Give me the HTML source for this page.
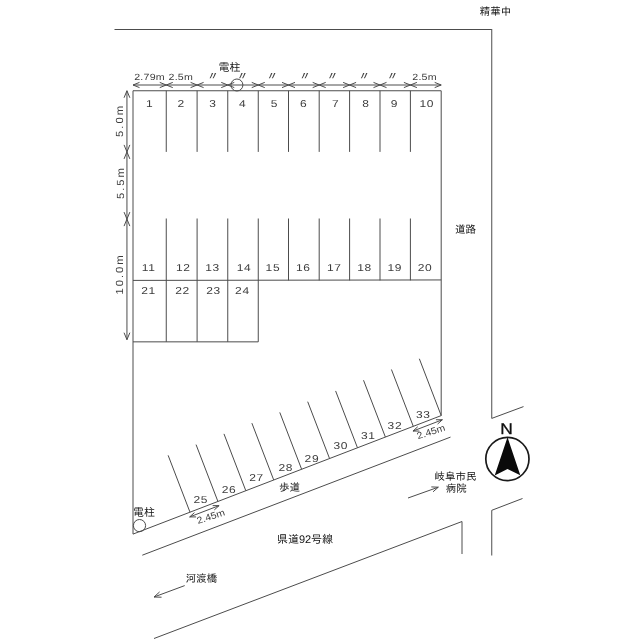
<!DOCTYPE html>
<html lang="ja"><head><meta charset="utf-8"><title>駐車場配置図</title>
<style>
html,body{margin:0;padding:0;background:#fff;}
body{width:640px;height:639px;overflow:hidden;}
svg{display:block;}
.g line,.g polyline,.g circle{fill:none;stroke:#4c4c4c;stroke-width:1.0;}
text{fill:#3c3c3c;text-rendering:geometricPrecision;}
.g circle.nc{stroke:#1a1a1a;stroke-width:1.7;}
.q{fill:#444 !important;}
.n{font-family:"Liberation Sans",sans-serif;}
.N{font-family:"Liberation Sans",sans-serif;fill:#111;stroke:#111;stroke-width:0.3;}
.j{font-family:"Liberation Sans","IPAGothic","Noto Sans CJK JP",sans-serif;fill:#111;}
</style></head><body>
<svg width="640" height="639" viewBox="0 0 640 639">
<rect width="640" height="639" fill="#ffffff"/>
<g class="g">
<line x1="133.00" y1="90.75" x2="441.20" y2="90.75"/>
<line x1="133.00" y1="90.75" x2="133.00" y2="534.10"/>
<line x1="441.20" y1="90.75" x2="441.20" y2="415.60"/>
<line x1="166.25" y1="90.75" x2="166.25" y2="151.90"/>
<line x1="197.10" y1="90.75" x2="197.10" y2="151.90"/>
<line x1="227.75" y1="90.75" x2="227.75" y2="151.90"/>
<line x1="258.25" y1="90.75" x2="258.25" y2="151.90"/>
<line x1="288.50" y1="90.75" x2="288.50" y2="151.90"/>
<line x1="319.20" y1="90.75" x2="319.20" y2="151.90"/>
<line x1="349.60" y1="90.75" x2="349.60" y2="151.90"/>
<line x1="380.00" y1="90.75" x2="380.00" y2="151.90"/>
<line x1="410.40" y1="90.75" x2="410.40" y2="151.90"/>
<line x1="166.25" y1="218.50" x2="166.25" y2="341.85"/>
<line x1="197.10" y1="218.50" x2="197.10" y2="341.85"/>
<line x1="227.75" y1="218.50" x2="227.75" y2="341.85"/>
<line x1="258.25" y1="218.50" x2="258.25" y2="341.85"/>
<line x1="288.50" y1="218.50" x2="288.50" y2="280.40"/>
<line x1="319.20" y1="218.50" x2="319.20" y2="280.40"/>
<line x1="349.60" y1="218.50" x2="349.60" y2="280.40"/>
<line x1="380.00" y1="218.50" x2="380.00" y2="280.40"/>
<line x1="410.40" y1="218.50" x2="410.40" y2="280.40"/>
<line x1="133.00" y1="280.40" x2="441.20" y2="279.95"/>
<line x1="133.00" y1="341.85" x2="258.25" y2="341.85"/>
<line x1="133.00" y1="85.00" x2="441.20" y2="85.00"/>
<polyline points="139.50,82.40 133.00,85.00 139.50,87.60"/>
<polyline points="159.75,87.60 166.25,85.00 159.75,82.40"/>
<polyline points="172.75,82.40 166.25,85.00 172.75,87.60"/>
<polyline points="190.60,87.60 197.10,85.00 190.60,82.40"/>
<polyline points="203.60,82.40 197.10,85.00 203.60,87.60"/>
<polyline points="221.25,87.60 227.75,85.00 221.25,82.40"/>
<polyline points="234.25,82.40 227.75,85.00 234.25,87.60"/>
<polyline points="251.75,87.60 258.25,85.00 251.75,82.40"/>
<polyline points="264.75,82.40 258.25,85.00 264.75,87.60"/>
<polyline points="282.00,87.60 288.50,85.00 282.00,82.40"/>
<polyline points="295.00,82.40 288.50,85.00 295.00,87.60"/>
<polyline points="312.70,87.60 319.20,85.00 312.70,82.40"/>
<polyline points="325.70,82.40 319.20,85.00 325.70,87.60"/>
<polyline points="343.10,87.60 349.60,85.00 343.10,82.40"/>
<polyline points="356.10,82.40 349.60,85.00 356.10,87.60"/>
<polyline points="373.50,87.60 380.00,85.00 373.50,82.40"/>
<polyline points="386.50,82.40 380.00,85.00 386.50,87.60"/>
<polyline points="403.90,87.60 410.40,85.00 403.90,82.40"/>
<polyline points="416.90,82.40 410.40,85.00 416.90,87.60"/>
<polyline points="434.70,87.60 441.20,85.00 434.70,82.40"/>
<line x1="126.95" y1="90.75" x2="126.95" y2="339.70"/>
<polyline points="129.85,97.75 126.95,90.75 124.05,97.75"/>
<polyline points="129.85,158.90 126.95,151.90 124.05,158.90"/>
<polyline points="129.85,226.10 126.95,219.10 124.05,226.10"/>
<polyline points="124.05,144.90 126.95,151.90 129.85,144.90"/>
<polyline points="124.05,212.10 126.95,219.10 129.85,212.10"/>
<polyline points="124.05,332.70 126.95,339.70 129.85,332.70"/>
<circle cx="236.9" cy="85.0" r="6.0"/>
<circle cx="139.5" cy="525.6" r="6.1"/>
<line x1="114.50" y1="29.50" x2="491.75" y2="29.50"/>
<line x1="491.75" y1="29.00" x2="491.75" y2="418.40"/>
<line x1="491.75" y1="418.40" x2="523.50" y2="406.60"/>
<line x1="491.75" y1="555.50" x2="491.75" y2="510.30"/>
<line x1="491.75" y1="510.30" x2="522.50" y2="498.50"/>
<line x1="133.00" y1="534.10" x2="441.20" y2="415.60"/>
<line x1="190.00" y1="512.18" x2="168.14" y2="455.34"/>
<line x1="217.91" y1="501.45" x2="196.06" y2="444.61"/>
<line x1="245.82" y1="490.72" x2="223.97" y2="433.88"/>
<line x1="273.73" y1="479.99" x2="251.88" y2="423.15"/>
<line x1="301.64" y1="469.26" x2="279.79" y2="412.41"/>
<line x1="329.56" y1="458.53" x2="307.70" y2="401.68"/>
<line x1="357.47" y1="447.79" x2="335.61" y2="390.95"/>
<line x1="385.38" y1="437.06" x2="363.52" y2="380.22"/>
<line x1="413.29" y1="426.33" x2="391.43" y2="369.49"/>
<line x1="441.20" y1="415.60" x2="419.34" y2="358.76"/>
<line x1="142.30" y1="555.20" x2="450.50" y2="437.10"/>
<line x1="154.00" y1="638.50" x2="462.00" y2="521.50"/>
<line x1="462.00" y1="521.50" x2="462.00" y2="554.00"/>
<line x1="189.68" y1="516.92" x2="219.08" y2="505.61"/>
<polyline points="194.45,512.62 189.68,516.92 196.10,516.91"/>
<polyline points="214.31,509.91 219.08,505.61 212.66,505.62"/>
<line x1="412.97" y1="431.06" x2="442.37" y2="419.76"/>
<polyline points="417.74,426.76 412.97,431.06 419.39,431.06"/>
<polyline points="437.59,424.06 442.37,419.76 435.94,419.76"/>
<line x1="154.00" y1="597.00" x2="184.70" y2="585.60"/>
<polyline points="159.60,591.95 154.00,597.00 161.54,597.21"/>
<line x1="408.00" y1="498.00" x2="438.30" y2="487.20"/>
<polyline points="433.04,491.82 438.30,487.20 431.30,486.92"/>
<circle class="nc" cx="507.4" cy="459.0" r="21.6"/>
<polygon points="507.5,437.2 520.3,475.2 507.5,469 494.7,475.4" fill="#0a0a0a" stroke="none"/>
</g>
<g style="opacity:0.999">
<text class="n" transform="translate(211.81 519.44) rotate(-18.00) scale(1.1 1)" font-size="9.5" text-anchor="middle" letter-spacing="0">2.45m</text>
<text class="n" transform="translate(431.92 434.81) rotate(-18.00) scale(1.1 1)" font-size="9.5" text-anchor="middle" letter-spacing="0">2.45m</text>
<text class="n" transform="translate(149.55 106.50) scale(1.2 1)" font-size="10" text-anchor="middle" letter-spacing="0.5">1</text>
<text class="n" transform="translate(148.70 271.40) scale(1.2 1)" font-size="10" text-anchor="middle" letter-spacing="0.5">11</text>
<text class="n" transform="translate(181.18 106.50) scale(1.2 1)" font-size="10" text-anchor="middle" letter-spacing="0.5">2</text>
<text class="n" transform="translate(183.18 271.40) scale(1.2 1)" font-size="10" text-anchor="middle" letter-spacing="0.5">12</text>
<text class="n" transform="translate(212.93 106.50) scale(1.2 1)" font-size="10" text-anchor="middle" letter-spacing="0.5">3</text>
<text class="n" transform="translate(212.62 271.40) scale(1.2 1)" font-size="10" text-anchor="middle" letter-spacing="0.5">13</text>
<text class="n" transform="translate(242.70 106.50) scale(1.2 1)" font-size="10" text-anchor="middle" letter-spacing="0.5">4</text>
<text class="n" transform="translate(244.00 271.40) scale(1.2 1)" font-size="10" text-anchor="middle" letter-spacing="0.5">14</text>
<text class="n" transform="translate(274.27 106.50) scale(1.2 1)" font-size="10" text-anchor="middle" letter-spacing="0.5">5</text>
<text class="n" transform="translate(272.88 271.40) scale(1.2 1)" font-size="10" text-anchor="middle" letter-spacing="0.5">15</text>
<text class="n" transform="translate(303.65 106.50) scale(1.2 1)" font-size="10" text-anchor="middle" letter-spacing="0.5">6</text>
<text class="n" transform="translate(303.35 271.40) scale(1.2 1)" font-size="10" text-anchor="middle" letter-spacing="0.5">16</text>
<text class="n" transform="translate(335.60 106.50) scale(1.2 1)" font-size="10" text-anchor="middle" letter-spacing="0.5">7</text>
<text class="n" transform="translate(334.20 271.40) scale(1.2 1)" font-size="10" text-anchor="middle" letter-spacing="0.5">17</text>
<text class="n" transform="translate(365.80 106.50) scale(1.2 1)" font-size="10" text-anchor="middle" letter-spacing="0.5">8</text>
<text class="n" transform="translate(364.60 271.40) scale(1.2 1)" font-size="10" text-anchor="middle" letter-spacing="0.5">18</text>
<text class="n" transform="translate(394.50 106.50) scale(1.2 1)" font-size="10" text-anchor="middle" letter-spacing="0.5">9</text>
<text class="n" transform="translate(394.70 271.40) scale(1.2 1)" font-size="10" text-anchor="middle" letter-spacing="0.5">19</text>
<text class="n" transform="translate(426.80 106.50) scale(1.2 1)" font-size="10" text-anchor="middle" letter-spacing="0.5">10</text>
<text class="n" transform="translate(425.00 271.40) scale(1.2 1)" font-size="10" text-anchor="middle" letter-spacing="0.5">20</text>
<text class="n" transform="translate(148.60 294.00) scale(1.2 1)" font-size="10" text-anchor="middle" letter-spacing="0.5">21</text>
<text class="n" transform="translate(182.58 294.00) scale(1.2 1)" font-size="10" text-anchor="middle" letter-spacing="0.5">22</text>
<text class="n" transform="translate(213.53 294.00) scale(1.2 1)" font-size="10" text-anchor="middle" letter-spacing="0.5">23</text>
<text class="n" transform="translate(242.40 294.00) scale(1.2 1)" font-size="10" text-anchor="middle" letter-spacing="0.5">24</text>
<text class="n" transform="translate(200.80 503.35) scale(1.2 1)" font-size="10" text-anchor="middle" letter-spacing="0.5">25</text>
<text class="n" transform="translate(228.95 493.00) scale(1.2 1)" font-size="10" text-anchor="middle" letter-spacing="0.5">26</text>
<text class="n" transform="translate(256.45 481.40) scale(1.2 1)" font-size="10" text-anchor="middle" letter-spacing="0.5">27</text>
<text class="n" transform="translate(285.70 470.80) scale(1.2 1)" font-size="10" text-anchor="middle" letter-spacing="0.5">28</text>
<text class="n" transform="translate(311.90 461.60) scale(1.2 1)" font-size="10" text-anchor="middle" letter-spacing="0.5">29</text>
<text class="n" transform="translate(340.80 449.40) scale(1.2 1)" font-size="10" text-anchor="middle" letter-spacing="0.5">30</text>
<text class="n" transform="translate(368.30 438.90) scale(1.2 1)" font-size="10" text-anchor="middle" letter-spacing="0.5">31</text>
<text class="n" transform="translate(394.90 428.80) scale(1.2 1)" font-size="10" text-anchor="middle" letter-spacing="0.5">32</text>
<text class="n" transform="translate(423.30 417.80) scale(1.2 1)" font-size="10" text-anchor="middle" letter-spacing="0.5">33</text>
<text class="n" transform="translate(149.52 80.20) scale(1.18 1)" font-size="9" text-anchor="middle" letter-spacing="0.2">2.79m</text>
<text class="n" transform="translate(180.82 80.20) scale(1.18 1)" font-size="9" text-anchor="middle" letter-spacing="0.2">2.5m</text>
<text class="n" transform="translate(424.52 80.20) scale(1.18 1)" font-size="9" text-anchor="middle" letter-spacing="0.2">2.5m</text>
<text class="j q" transform="translate(213.23 80.40) scale(1.25 1)" font-size="11.5" text-anchor="middle">〃</text>
<text class="j q" transform="translate(242.65 80.40) scale(1.25 1)" font-size="11.5" text-anchor="middle">〃</text>
<text class="j q" transform="translate(272.38 80.40) scale(1.25 1)" font-size="11.5" text-anchor="middle">〃</text>
<text class="j q" transform="translate(305.25 80.40) scale(1.25 1)" font-size="11.5" text-anchor="middle">〃</text>
<text class="j q" transform="translate(332.70 80.40) scale(1.25 1)" font-size="11.5" text-anchor="middle">〃</text>
<text class="j q" transform="translate(364.50 80.40) scale(1.25 1)" font-size="11.5" text-anchor="middle">〃</text>
<text class="j q" transform="translate(392.75 80.40) scale(1.25 1)" font-size="11.5" text-anchor="middle">〃</text>
<text class="n" transform="translate(122.90 120.40) rotate(-90.00) scale(1.095 1)" font-size="10.3" text-anchor="middle" letter-spacing="1.8">5.0m</text>
<text class="n" transform="translate(124.30 182.60) rotate(-90.00) scale(1.095 1)" font-size="10.3" text-anchor="middle" letter-spacing="1.8">5.5m</text>
<text class="n" transform="translate(122.90 274.00) rotate(-90.00) scale(1.095 1)" font-size="10.3" text-anchor="middle" letter-spacing="1.8">10.0m</text>
<text class="j" transform="translate(229.40 71.00)" font-size="11" text-anchor="middle">電柱</text>
<text class="j" transform="translate(144.10 516.00)" font-size="11" text-anchor="middle">電柱</text>
<text class="j" transform="translate(495.60 15.10)" font-size="10.5" text-anchor="middle">精華中</text>
<text class="j" transform="translate(465.40 233.00)" font-size="10.5" text-anchor="middle">道路</text>
<text class="j" transform="translate(289.50 491.00)" font-size="10.5" text-anchor="middle">歩道</text>
<text class="j" transform="translate(305.00 542.70)" font-size="11" text-anchor="middle">県道92号線</text>
<text class="j" transform="translate(201.50 581.80)" font-size="10.5" text-anchor="middle">河渡橋</text>
<text class="j" transform="translate(455.50 480.00)" font-size="10.5" text-anchor="middle">岐阜市民</text>
<text class="j" transform="translate(456.20 492.20)" font-size="10.5" text-anchor="middle">病院</text>
<text class="N" transform="translate(506.40 433.90) scale(1.12 1)" font-size="15.5" text-anchor="middle">N</text>
</g>
</svg>
</body></html>
